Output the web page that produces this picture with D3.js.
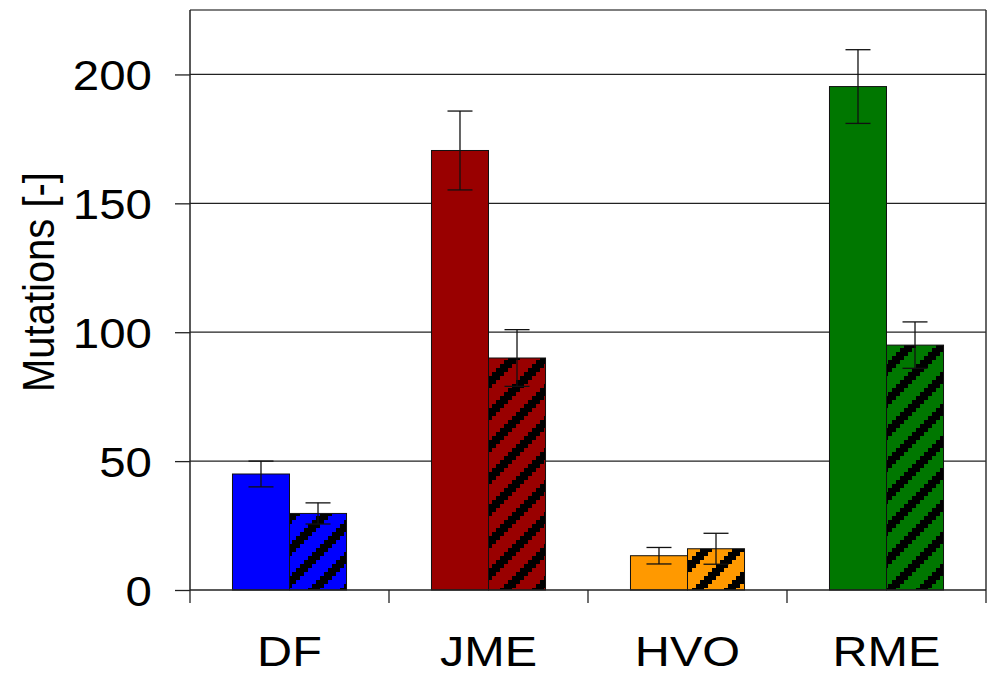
<!DOCTYPE html>
<html>
  <head>
    <meta charset="utf-8" />
    <title>Mutations</title>
    <script src="https://d3js.org/d3.v7.min.js"></script>
    <style>
      body { margin: 0; background: #fff; }
      text { font-family: "Liberation Sans", Arial, sans-serif; fill: #000; }
    </style>
  </head>
  <body>
    <svg id="viz"></svg>

    <script>
        // data
        var fuels = ["DF", "JME", "HVO", "RME"];
        var fuelColors = ["#0000ff", "#990000", "#ff9900", "#007700"];
        var series = ["plain", "hatched"];
        var plainValues = [45, 170.5, 13.3, 195.3];
        var plainErrors = [5, 15.3, 3.2, 14.3];
        var hatchedValues = [29.7, 90, 16, 95];
        var hatchedErrors = [4.1, 11, 6, 9];
        var yTicks = [0, 50, 100, 150, 200];

        var width = 993, height = 673;
        var plotLeft = 190, plotRight = 986, plotTop = 10, plotBottom = 590;
        var stretch = 1.13; // text in the picture is a little wider than tall

        var svg = d3.select("#viz")
            .attr("width", width)
            .attr("height", height);

        var y = d3.scaleLinear().domain([0, 225]).range([plotBottom, plotTop]);
        var x0 = d3.scaleBand().domain(fuels).range([plotLeft, plotRight]);
        var x1 = d3.scaleBand().domain(series)
            .range([0, x0.bandwidth()])
            .paddingOuter(0.745);

        // hatch patterns, stepped diagonal stripes
        var cell = 4, cells = 8;
        var defs = svg.append("defs");
        fuels.forEach(function(f, i) {
            var p = defs.append("pattern")
                .attr("id", "hatch" + i)
                .attr("patternUnits", "userSpaceOnUse")
                .attr("width", cell * cells).attr("height", cell * cells);
            p.append("rect").attr("width", cell * cells).attr("height", cell * cells)
                .attr("fill", fuelColors[i]);
            for (var c = 0; c < cells; c++) {
                for (var r = 0; r < cells; r++) {
                    if ((c + r) % cells < 3) {
                        p.append("rect")
                            .attr("x", c * cell).attr("y", r * cell)
                            .attr("width", cell).attr("height", cell)
                            .attr("fill", "#000")
                            .attr("shape-rendering", "crispEdges");
                    }
                }
            }
        });

        // grid lines
        svg.append("g").selectAll("line")
            .data(yTicks.filter(function(d) { return d > 0; }))
            .enter().append("line")
            .attr("x1", plotLeft).attr("x2", plotRight)
            .attr("y1", function(d) { return y(d); })
            .attr("y2", function(d) { return y(d); })
            .style("stroke", "#222")
            .style("stroke-width", 1.3);

        // frame top and right
        svg.append("line")
            .attr("x1", plotLeft).attr("x2", plotRight)
            .attr("y1", plotTop).attr("y2", plotTop)
            .style("stroke", "#555").style("stroke-width", 1.5);
        svg.append("line")
            .attr("x1", plotRight).attr("x2", plotRight)
            .attr("y1", plotTop).attr("y2", plotBottom)
            .style("stroke", "#333").style("stroke-width", 1.5);

        var rows = fuels.map(function(f, i) {
            return [
                {fuel: f, i: i, s: "plain", v: plainValues[i], e: plainErrors[i]},
                {fuel: f, i: i, s: "hatched", v: hatchedValues[i], e: hatchedErrors[i]}
            ];
        });
        var bars = [].concat.apply([], rows);

        svg.append("g").selectAll("rect")
            .data(bars)
            .enter().append("rect")
            .attr("x", function(d) { return x0(d.fuel) + x1(d.s); })
            .attr("y", function(d) { return y(d.v); })
            .attr("width", x1.bandwidth())
            .attr("height", function(d) { return y(0) - y(d.v); })
            .attr("fill", function(d) {
                return d.s === "plain" ? fuelColors[d.i] : "url(#hatch" + d.i + ")";
            })
            .style("stroke", "#111")
            .style("stroke-width", 1);

        // error bars
        var eb = svg.append("g").selectAll("g")
            .data(bars)
            .enter().append("g")
            .attr("transform", function(d) {
                return "translate(" + (x0(d.fuel) + x1(d.s) + x1.bandwidth() / 2) + ",0)";
            })
            .style("stroke", "#111")
            .style("stroke-width", 1.3);
        eb.append("line")
            .attr("y1", function(d) { return y(d.v + d.e); })
            .attr("y2", function(d) { return y(d.v - d.e); });
        eb.append("line")
            .attr("x1", -12.5).attr("x2", 12.5)
            .attr("y1", function(d) { return y(d.v + d.e); })
            .attr("y2", function(d) { return y(d.v + d.e); });
        eb.append("line")
            .attr("x1", -12.5).attr("x2", 12.5)
            .attr("y1", function(d) { return y(d.v - d.e); })
            .attr("y2", function(d) { return y(d.v - d.e); });

        // y axis
        var yAxis = svg.append("g")
            .attr("transform", "translate(" + plotLeft + ",0)")
            .call(d3.axisLeft(y).tickValues(yTicks).tickSize(15).tickPadding(23));
        yAxis.select(".domain").attr("d", "M0," + plotTop + "V" + plotBottom)
            .style("stroke", "#222").style("stroke-width", 1.5);
        yAxis.selectAll(".tick line").style("stroke", "#222").style("stroke-width", 1.3);
        yAxis.selectAll(".tick text")
            .style("font-size", "42px")
            .attr("x", 0)
            .attr("dy", "0.36em")
            .attr("transform", "translate(-38,0) scale(" + stretch + ",1)");

        // x axis
        var xAxis = svg.append("g")
            .attr("transform", "translate(0," + plotBottom + ")")
            .call(d3.axisBottom(x0).tickSize(0).tickPadding(0));
        xAxis.select(".domain").remove();
        xAxis.selectAll(".tick text")
            .attr("y", 76)
            .attr("dy", 0)
            .style("font-size", "43px")
            .attr("transform", "scale(" + stretch + ",1)");
        svg.append("line")
            .attr("x1", plotLeft).attr("x2", plotRight)
            .attr("y1", plotBottom).attr("y2", plotBottom)
            .style("stroke", "#222").style("stroke-width", 1.5);
        svg.append("g").selectAll("line")
            .data(d3.range(fuels.length + 1))
            .enter().append("line")
            .attr("x1", function(d) { return plotLeft + d * x0.step(); })
            .attr("x2", function(d) { return plotLeft + d * x0.step(); })
            .attr("y1", plotBottom).attr("y2", plotBottom + 13)
            .style("stroke", "#222").style("stroke-width", 1.3);

        // y label
        svg.append("text")
            .attr("transform", "translate(54,282) scale(" + stretch + ",1) rotate(-90)")
            .attr("text-anchor", "middle")
            .style("font-size", "40px")
            .text("Mutations [-]");
    </script>
  </body>
</html>
